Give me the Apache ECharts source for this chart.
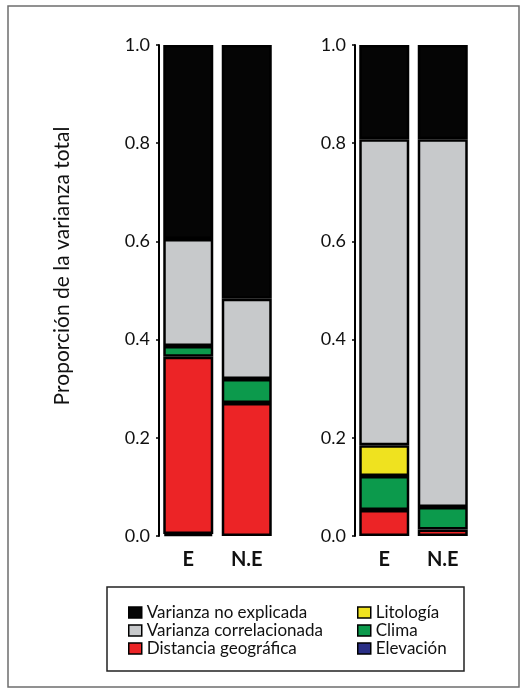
<!DOCTYPE html>
<html>
<head>
<meta charset="utf-8">
<script src="https://cdn.jsdelivr.net/npm/echarts@6/dist/echarts.min.js"></script>
<style>
  html, body { margin: 0; padding: 0; background: #ffffff; }
  #chart { width: 525px; height: 693px; }
</style>
</head>
<body>
<div id="chart"></div>
<script>
// Categories on each panel
const categories = ['E', 'N.E'];
const yTicks = [0, 0.2, 0.4, 0.6, 0.8, 1.0];

// Variance partition, left panel (E, N.E), bottom to top
const leftElevacion     = [0.004, null];
const leftDistancia     = [0.361, 0.271];
const leftClima         = [0.022, 0.049];
const leftLitologia     = [null, null];
const leftCorrelacionada = [0.218, 0.163];
const leftNoExplicada   = [0.395, 0.517];

// Variance partition, right panel (E, N.E), bottom to top
const rightElevacion     = [null, null];
const rightDistancia     = [0.053, 0.013];
const rightClima         = [0.069, 0.046];
const rightLitologia     = [0.063, null];
const rightCorrelacionada = [0.623, 0.749];
const rightNoExplicada   = [0.192, 0.192];

const names = {
  noExp: 'Varianza no explicada',
  corr: 'Varianza correlacionada',
  dist: 'Distancia geográfica',
  lito: 'Litología',
  clima: 'Clima',
  elev: 'Elevación'
};
const colors = {
  noExp: '#050505',
  corr: '#c7c9cb',
  dist: '#ec2426',
  lito: '#efe21f',
  clima: '#0c9a4c',
  elev: '#2a2f86'
};

const FONT = 'Lato, "Open Sans", sans-serif';

function stackSeries(axisIdx, stackId, sets) {
  return sets.map(([key, data]) => ({
    name: names[key],
    type: 'bar',
    stack: stackId,
    xAxisIndex: axisIdx,
    yAxisIndex: axisIdx,
    barWidth: 50,
    data: data,
    itemStyle: { color: colors[key], borderColor: '#000', borderWidth: 2.5 },
    emphasis: { disabled: true }
  }));
}

const leftSets = [
  ['elev', leftElevacion], ['dist', leftDistancia], ['clima', leftClima],
  ['lito', leftLitologia], ['corr', leftCorrelacionada], ['noExp', leftNoExplicada]
];
const rightSets = [
  ['elev', rightElevacion], ['dist', rightDistancia], ['clima', rightClima],
  ['lito', rightLitologia], ['corr', rightCorrelacionada], ['noExp', rightNoExplicada]
];

function xAxis(gridIndex) {
  return {
    type: 'category', gridIndex, data: categories,
    axisLine: { show: false }, axisTick: { show: false },
    axisLabel: { color: '#111', fontFamily: FONT, fontSize: 20, fontWeight: 'bold', margin: 14 }
  };
}
function yAxis(gridIndex) {
  return {
    type: 'value', gridIndex, min: 0, max: 1, interval: 0.2,
    axisLine: { show: true, lineStyle: { color: '#000', width: 2 } },
    axisTick: { show: true, length: 3, lineStyle: { color: '#000', width: 1.5 } },
    splitLine: { show: false },
    axisLabel: {
      color: '#111', fontFamily: FONT, fontSize: 18, margin: 9,
      formatter: v => yTicks.includes(Math.round(v * 10) / 10) ? v.toFixed(1) : ''
    }
  };
}

const legendText = { color: '#111', fontFamily: FONT, fontSize: 17 };
const legendBase = {
  orient: 'vertical', itemWidth: 13, itemHeight: 11, itemGap: 1,
  icon: 'rect', textStyle: legendText, selectedMode: false,
  itemStyle: { borderColor: '#000', borderWidth: 1.5 }
};

const chart = echarts.init(document.getElementById('chart'), null, { renderer: 'canvas' });
chart.setOption({
  backgroundColor: '#ffffff',
  animation: false,
  grid: [
    { left: 159, width: 117, top: 45, bottom: 157 },
    { left: 355, width: 117, top: 45, bottom: 157 }
  ],
  xAxis: [xAxis(0), xAxis(1)],
  yAxis: [yAxis(0), yAxis(1)],
  legend: [
    Object.assign({}, legendBase, { left: 123, top: 599, data: [names.noExp, names.corr, names.dist] }),
    Object.assign({}, legendBase, { left: 352, top: 599, data: [names.lito, names.clima, names.elev] })
  ],
  graphic: [
    { type: 'rect', shape: { x: 8, y: 6, width: 511, height: 681 },
      style: { fill: 'none', stroke: '#6e6e6e', lineWidth: 1.5 }, silent: true },
    { type: 'rect', shape: { x: 107, y: 587, width: 357, height: 84 },
      style: { fill: 'none', stroke: '#222', lineWidth: 1.5 }, silent: true },
    // vertical axis title
    { type: 'text', x: 62, y: 266, rotation: Math.PI / 2, silent: true,
      style: { text: 'Proporción de la varianza total', fill: '#111', font: '21px ' + FONT,
               align: 'center', verticalAlign: 'middle' } }
  ],
  series: stackSeries(0, 'left', leftSets).concat(stackSeries(1, 'right', rightSets))
});
</script>
</body>
</html>
